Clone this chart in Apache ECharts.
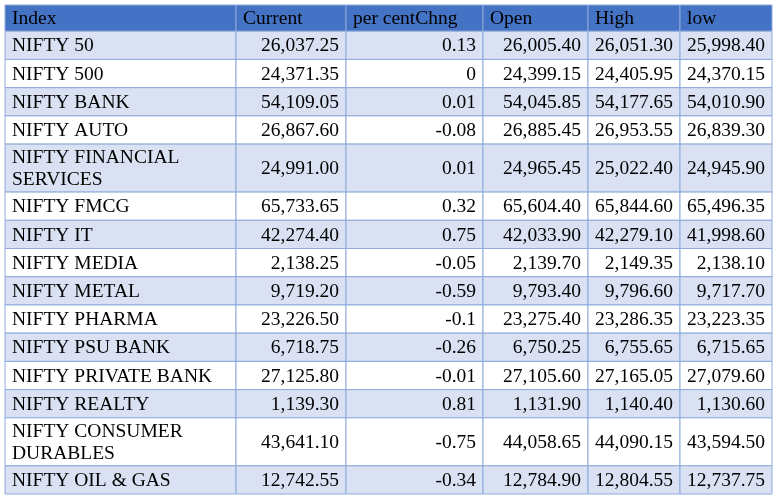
<!DOCTYPE html>
<html><head><meta charset="utf-8">
<script src="https://cdn.jsdelivr.net/npm/echarts@6/dist/echarts.min.js"></script>
<style>html,body{margin:0;padding:0;background:#fff}#c{width:777px;height:497px}</style>
</head><body><div id="c"></div>
<script>
const headers = ['Index','Current','per centChng','Open','High','low'];
const indices = ['NIFTY 50','NIFTY 500','NIFTY BANK','NIFTY AUTO','NIFTY FINANCIAL\nSERVICES','NIFTY FMCG','NIFTY IT','NIFTY MEDIA','NIFTY METAL','NIFTY PHARMA','NIFTY PSU BANK','NIFTY PRIVATE BANK','NIFTY REALTY','NIFTY CONSUMER\nDURABLES','NIFTY OIL & GAS'];
const current = ['26,037.25','24,371.35','54,109.05','26,867.60','24,991.00','65,733.65','42,274.40','2,138.25','9,719.20','23,226.50','6,718.75','27,125.80','1,139.30','43,641.10','12,742.55'];
const pctChng = ['0.13','0','0.01','-0.08','0.01','0.32','0.75','-0.05','-0.59','-0.1','-0.26','-0.01','0.81','-0.75','-0.34'];
const open = ['26,005.40','24,399.15','54,045.85','26,885.45','24,965.45','65,604.40','42,033.90','2,139.70','9,793.40','23,275.40','6,750.25','27,105.60','1,131.90','44,058.65','12,784.90'];
const high = ['26,051.30','24,405.95','54,177.65','26,953.55','25,022.40','65,844.60','42,279.10','2,149.35','9,796.60','23,286.35','6,755.65','27,165.05','1,140.40','44,090.15','12,804.55'];
const low = ['25,998.40','24,370.15','54,010.90','26,839.30','24,945.90','65,496.35','41,998.60','2,138.10','9,717.70','23,223.35','6,715.65','27,079.60','1,130.60','43,594.50','12,737.75'];

const colEdges = [0,231,341,478,583,675,767];
const headerH = 0.93, rowH = 1, tallH = 1.7;
const cols = [indices, current, pctChng, open, high, low];
const data = [];
let y = 0;
headers.forEach((h,c)=>data.push([colEdges[c],0,colEdges[c+1],headerH,h,'left','h',0]));
y = headerH;
indices.forEach((name,r)=>{
  const hgt = name.indexOf('\n')>=0 ? tallH : rowH;
  cols.forEach((arr,c)=>data.push([colEdges[c],y,colEdges[c+1],y+hgt,arr[r],c===0?'left':'right',r%2===0?'a':'b',r]));
  y += hgt;
});
const total = y;

const chart = echarts.init(document.getElementById('c'));
chart.setOption({
  animation:false,
  grid:{left:5,right:5,top:5,bottom:3},
  xAxis:{type:'value',min:0,max:colEdges[colEdges.length-1],show:false},
  yAxis:{type:'value',min:0,max:total,inverse:true,show:false},
  series:[{
    type:'custom',
    data:data,
    encode:{x:[0,2],y:[1,3]},
    renderItem:(params,api)=>{
      const p0 = api.coord([api.value(0),api.value(1)]);
      const p1 = api.coord([api.value(2),api.value(3)]);
      const d = data[params.dataIndex];
      const kind = d[6];
      const fill = kind==='h' ? '#4472c4' : (kind==='a' ? '#d9e1f2' : '#ffffff');
      const right = d[5]==='right';
      return {type:'group',children:[
        {type:'rect',shape:{x:p0[0],y:p0[1],width:p1[0]-p0[0],height:p1[1]-p0[1]},
         style:{fill:fill,stroke:'#8eaadb',lineWidth:1}},
        {type:'text',style:{text:d[4],x:right?p1[0]-7:p0[0]+7,y:(p0[1]+p1[1])/2+1,
          align:right?'right':'left',verticalAlign:'middle',
          font:'19.5px "Liberation Serif", "DejaVu Serif", serif',fill:'#000',lineHeight:22}}
      ]};
    }
  }]
});
</script></body></html>
